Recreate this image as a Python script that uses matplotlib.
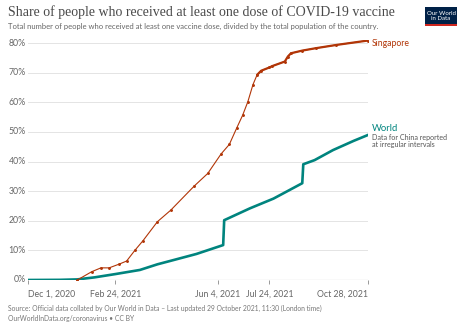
import matplotlib
matplotlib.use("Agg")
import matplotlib.pyplot as plt
import matplotlib.dates as mdates
from matplotlib.patches import Rectangle
import numpy as np
import pandas as pd

W, H = 466, 329

sg_dates = ["2021-01-18", "2021-02-01", "2021-02-10", "2021-02-18", "2021-02-28", "2021-03-07",
            "2021-03-15", "2021-03-23", "2021-04-06", "2021-04-19", "2021-05-12", "2021-05-25",
            "2021-06-07", "2021-06-15", "2021-06-22", "2021-06-28", "2021-07-03", "2021-07-08",
            "2021-07-12", "2021-07-16", "2021-07-24", "2021-07-27", "2021-08-08", "2021-08-11",
            "2021-08-14", "2021-08-25", "2021-09-07", "2021-09-27", "2021-10-28"]
sg_values = [0.0, 2.8, 4.1, 4.1, 5.4, 6.4, 10.0, 13.3, 19.7, 23.6, 31.8, 36.0, 42.6, 45.8,
             51.2, 55.7, 60.2, 66.0, 69.3, 70.7, 71.8, 72.3, 73.8, 75.5, 76.6, 77.5, 78.3,
             79.4, 80.9]

world_dates = ["2020-12-01", "2021-01-01", "2021-01-18", "2021-02-04", "2021-02-24", "2021-03-20",
               "2021-04-06", "2021-04-18", "2021-05-14", "2021-06-09", "2021-06-10", "2021-07-05",
               "2021-07-28", "2021-08-25", "2021-08-26", "2021-09-06", "2021-09-24", "2021-10-14",
               "2021-10-28"]
world_values = [0.0, 0.05, 0.2, 0.9, 2.0, 3.4, 5.3, 6.4, 8.8, 11.8, 20.2, 24.2, 27.5, 32.7,
                39.1, 40.5, 43.9, 47.0, 49.0]

tick_dates = ["2020-12-01", "2021-02-24", "2021-06-04", "2021-07-24", "2021-10-28"]
tick_labels = ["Dec 1, 2020", "Feb 24, 2021", "Jun 4, 2021", "Jul 24, 2021", "Oct 28, 2021"]
y_ticks = [0, 10, 20, 30, 40, 50, 60, 70, 80]

SG_COLOR = "#b13507"
WORLD_COLOR = "#00847e"
GRID = "#e4e4e4"
TXT = "#666666"

plt.rcParams['font.family'] = ['Lato', 'DejaVu Sans']

fig = plt.figure(figsize=(W / 100, H / 100), dpi=100)

def fx(x):
    return x / W

def fy(y):
    return 1 - y / H

# axes placement in pixels
L, R, T, B = 28, 368, 40, 280
ax = fig.add_axes([fx(L), fy(B), (R - L) / W, (B - T) / H])
ax.set_facecolor("none")

sg_d = pd.to_datetime(sg_dates)
w_d = pd.to_datetime(world_dates)
ax.plot(w_d, world_values, color=WORLD_COLOR, lw=1.9, solid_joinstyle="round", zorder=3)
ax.plot(sg_d, sg_values, color=SG_COLOR, lw=0.8, marker="o", ms=1.1, zorder=4)
# denser part of the Singapore series looks thicker in the reference
late = sg_d >= pd.Timestamp("2021-07-12")
ax.plot(sg_d[late], np.array(sg_values)[late], color=SG_COLOR, lw=1.6,
        solid_capstyle="round", zorder=4)

xmin = pd.Timestamp("2020-12-01")
xmax = pd.Timestamp("2021-10-28")
ax.set_xlim(xmin, xmax)
ax.set_ylim(0, (B - T) / 2.96)

for s in ax.spines.values():
    s.set_visible(False)
ax.set_yticks(y_ticks)
ax.set_yticklabels([])
ax.tick_params(axis="y", length=0)
for v in y_ticks[1:]:
    ax.axhline(v, color=GRID, lw=0.7, zorder=1)
for v in y_ticks:
    ax.text(-0.006, v, f"{v}%", transform=ax.get_yaxis_transform(), ha="right", va="center",
            fontsize=6.3, color=TXT)

# x axis
ax.axhline(0, color="#999999", lw=0.8, zorder=2)
td = pd.to_datetime(tick_dates)
ax.set_xticks(td)
ax.set_xticklabels([])
ax.tick_params(axis="x", length=3, color="#999999", width=0.7, pad=0)
has = ["left", "center", "center", "center", "right"]
for d, lab, ha in zip(td, tick_labels, has):
    ax.annotate(lab, xy=(mdates.date2num(d), 0), xycoords=("data", "axes fraction"),
                xytext=(0, -10), textcoords="offset points", ha=ha, va="center",
                fontsize=6.3, color=TXT, annotation_clip=False)

# line labels
ax.annotate("Singapore", xy=(1, sg_values[-1]), xycoords=("axes fraction", "data"),
            xytext=(3, -2), textcoords="offset points", ha="left", va="center",
            fontsize=6.2, color=SG_COLOR, annotation_clip=False)
ax.annotate("World", xy=(1, world_values[-1]), xycoords=("axes fraction", "data"),
            xytext=(3, 4.5), textcoords="offset points", ha="left", va="center",
            fontsize=6.8, color=WORLD_COLOR, annotation_clip=False)
ax.annotate("Data for China reported\nat irregular intervals", xy=(1, world_values[-1]),
            xycoords=("axes fraction", "data"), xytext=(3, -4.5), textcoords="offset points",
            ha="left", va="center", fontsize=5.1, color="#555555", linespacing=1.0,
            annotation_clip=False)

# titles
fig.text(fx(8), fy(16), "Share of people who received at least one dose of COVID-19 vaccine",
         family=["Liberation Serif"], fontsize=10.0, color="#4a4a4a", ha="left", va="baseline")
fig.text(fx(8), fy(29), "Total number of people who received at least one vaccine dose, divided by the total population of the country.",
         fontsize=5.5, color="#666666", ha="left", va="baseline")

# footer
fig.text(fx(8), fy(311), "Source: Official data collated by Our World in Data \u2013 Last updated 29 October 2021, 11:30 (London time)",
         fontsize=4.9, color="#777777", ha="left", va="baseline")
fig.text(fx(8), fy(321), "OurWorldInData.org/coronavirus \u2022 CC BY",
         fontsize=4.9, color="#777777", ha="left", va="baseline")

# logo
lx, ly, lw_, lh = 425, 7, 32, 19
fig.patches.append(Rectangle((fx(lx), fy(ly + lh)), lw_ / W, lh / H, transform=fig.transFigure,
                             facecolor="#002147", edgecolor="none"))
fig.patches.append(Rectangle((fx(lx), fy(ly + lh)), lw_ / W, 1.6 / H, transform=fig.transFigure,
                             facecolor="#ce261e", edgecolor="none"))
fig.text(fx(lx + lw_ / 2), fy(ly + lh / 2 - 0.5), "Our World\nin Data", fontsize=4.4, color="white",
         ha="center", va="center", linespacing=0.95)

fig.savefig("out.png", dpi=100)
